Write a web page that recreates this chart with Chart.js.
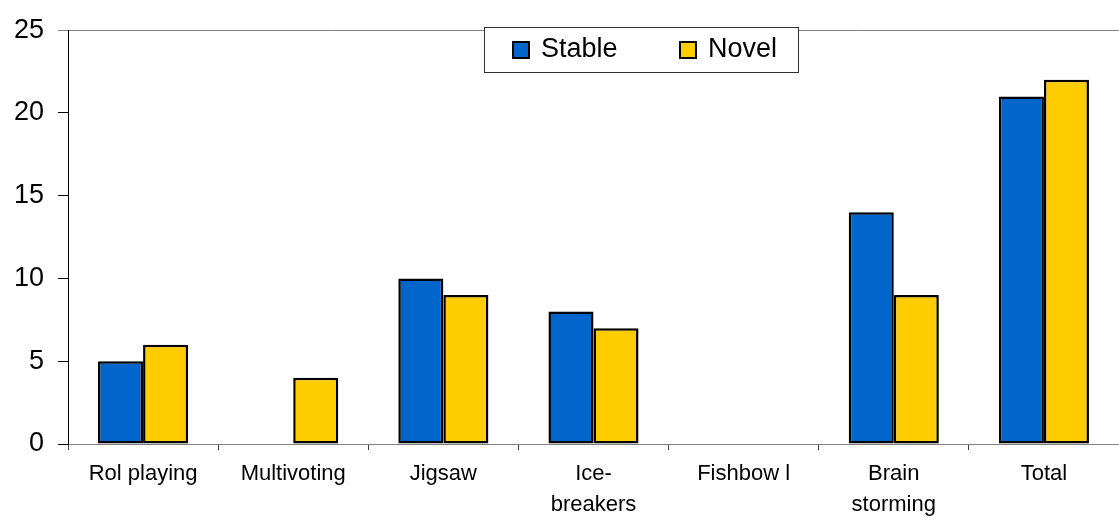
<!DOCTYPE html>
<html>
<head>
<meta charset="utf-8">
<script src="https://cdn.jsdelivr.net/npm/chart.js@4"></script>
<style>
  html, body { margin: 0; padding: 0; background: #fff; }
  #wrap { width: 1119px; height: 518px; }
</style>
</head>
<body>
<div id="wrap"><canvas id="methodsChart"></canvas></div>
<script>
const categories = ['Rol playing', 'Multivoting', 'Jigsaw', ['Ice-', 'breakers'], 'Fishbow l', ['Brain', 'storming'], 'Total'];
const stableValues = [5, 0, 10, 8, 0, 14, 21];
const novelValues = [6, 4, 9, 7, 0, 9, 22];
const yTicks = [0, 5, 10, 15, 20, 25];

// legend drawn as a framed box over the plot, like the original
const boxLegend = {
  id: 'boxLegend',
  afterDraw(chart) {
    const ctx = chart.ctx;
    ctx.save();
    ctx.fillStyle = '#fff';
    ctx.fillRect(484, 27, 314, 45);
    ctx.strokeStyle = '#333';
    ctx.lineWidth = 1;
    ctx.strokeRect(484.5, 27.5, 314, 45);
    const xs = [513, 680];
    chart.data.datasets.forEach(function (ds, i) {
      ctx.fillStyle = ds.backgroundColor;
      ctx.fillRect(xs[i], 42, 16, 16);
      ctx.strokeStyle = '#000';
      ctx.lineWidth = 2;
      ctx.strokeRect(xs[i], 42, 16, 16);
      ctx.fillStyle = '#000';
      ctx.font = '27px "Liberation Sans", Arial, sans-serif';
      ctx.textBaseline = 'middle';
      ctx.fillText(ds.label, xs[i] + 28, 50);
    });
    ctx.restore();
  }
};

window.onload = function () {
  new Chart(document.getElementById('methodsChart'), {
    type: 'bar',
    data: {
      labels: categories,
      datasets: [{
        label: 'Stable',
        data: stableValues,
        backgroundColor: '#0066CC',
        borderColor: '#000',
        borderWidth: 2.5,
        borderSkipped: false
      }, {
        label: 'Novel',
        data: novelValues,
        backgroundColor: '#FFCC00',
        borderColor: '#000',
        borderWidth: 2.5,
        borderSkipped: false
      }]
    },
    options: {
      responsive: true,
      maintainAspectRatio: false,
      animation: false,
      layout: { padding: { top: 28, left: 0, right: 0, bottom: 0 } },
      datasets: { bar: { categoryPercentage: 0.6, barPercentage: 1 } },
      plugins: { legend: { display: false }, tooltip: { enabled: false } },
      scales: {
        x: {
          offset: true,
          border: { color: '#808080', width: 1 },
          grid: { offset: true, drawOnChartArea: false, tickLength: 6, tickColor: '#444' },
          ticks: {
            color: '#000',
            padding: 9,
            maxRotation: 0,
            autoSkip: false,
            font: { family: '"Liberation Sans", Arial, sans-serif', size: 22, lineHeight: 1.38 }
          },
          afterFit(scale) { scale.height = 74; }
        },
        y: {
          min: 0,
          max: 25,
          border: { color: '#000', width: 1 },
          afterBuildTicks(scale) { scale.ticks = yTicks.map(v => ({ value: v })); },
          grid: {
            tickLength: 10,
            color: ctx => ctx.tick && ctx.tick.value === 25 ? '#808080' : 'rgba(0,0,0,0)',
            tickColor: ctx => ctx.tick && ctx.tick.value === 25 ? '#808080' : '#000'
          },
          ticks: {
            color: '#000',
            padding: 14,
            font: { family: '"Liberation Sans", Arial, sans-serif', size: 27 }
          },
          afterFit(scale) { scale.width = 68; }
        }
      }
    },
    plugins: [boxLegend]
  });
};
</script>
</body>
</html>
